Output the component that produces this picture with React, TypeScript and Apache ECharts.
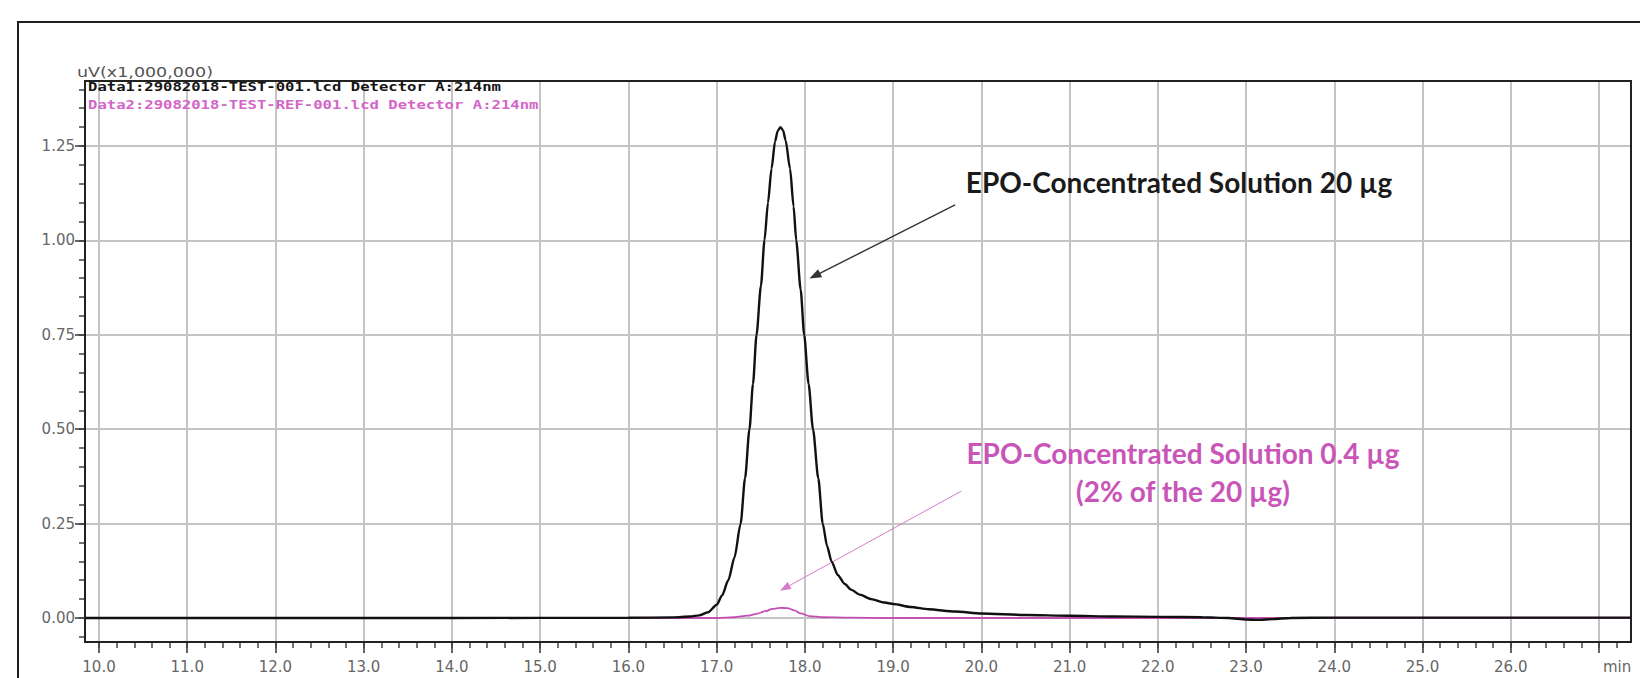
import React, { useEffect, useRef } from "react";
import * as echarts from "echarts";

// Retention time (min) / signal (uV x 1,000,000)
const blackTrace: [number, number][] = [
  [9.84, 0], [12, 0], [14, 0], [16, 0.0005], [16.5, 0.0015], [16.7, 0.004],
  [16.8, 0.007], [16.9, 0.015], [17.0, 0.035], [17.06, 0.06], [17.13, 0.1],
  [17.2, 0.16], [17.27, 0.25], [17.32, 0.37], [17.37, 0.5], [17.41, 0.62],
  [17.45, 0.75], [17.5, 0.88], [17.54, 1.0], [17.58, 1.1], [17.62, 1.19],
  [17.66, 1.262], [17.69, 1.29], [17.72, 1.3], [17.75, 1.292], [17.78, 1.265],
  [17.83, 1.19], [17.87, 1.09], [17.9, 1.0], [17.95, 0.87], [17.99, 0.75],
  [18.04, 0.62], [18.09, 0.5], [18.15, 0.37], [18.2, 0.25], [18.25, 0.19],
  [18.3, 0.15], [18.37, 0.114], [18.45, 0.09], [18.52, 0.075], [18.62, 0.062],
  [18.75, 0.05], [18.9, 0.041], [19.0, 0.037], [19.2, 0.029], [19.4, 0.023],
  [19.7, 0.017], [20.0, 0.012], [20.5, 0.008], [21.0, 0.006], [21.5, 0.004],
  [22.0, 0.003], [22.5, 0.002], [22.8, 0.0], [23.0, -0.004], [23.15, -0.005],
  [23.3, -0.003], [23.5, 0.0], [24.0, 0.001], [25, 0.001], [26, 0.001], [27.36, 0.001],
];

const pinkTrace: [number, number][] = [
  [9.84, 0], [17.0, 0], [17.2, 0.002], [17.35, 0.006], [17.45, 0.011],
  [17.55, 0.018], [17.63, 0.024], [17.72, 0.027], [17.8, 0.026], [17.88, 0.02],
  [17.95, 0.012], [18.05, 0.005], [18.2, 0.002], [18.5, 0.001], [19, 0], [27.36, 0],
];

const xRange = [9.84, 27.36];
const yRange = [-0.0636, 1.4222];
const xMajor = { min: 10, max: 27, step: 1 };
const xMinor = { min: 10, max: 27.2, step: 0.2 };
const yMajor = { min: 0, max: 1.25, step: 0.25 };
const yMinor = { min: -0.05, max: 1.4, step: 0.05 };

const yAxisTitle = "uV(x1,000,000)";
const legendLines = [
  "Data1:29082018-TEST-001.lcd Detector A:214nm",
  "Data2:29082018-TEST-REF-001.lcd Detector A:214nm",
];
const xUnit = "min";
const annot20 = "EPO-Concentrated Solution 20 µg";
const annot04 = ["EPO-Concentrated Solution 0.4 µg", "(2% of the 20 µg)"];
// arrows: [from, to] in data coordinates
const arrow20: [number, number][] = [[19.7, 1.094], [18.11, 0.906]];
const arrow04: [number, number][] = [[19.77, 0.336], [17.77, 0.079]];

const BLACK = "#111111";
const PINK = "#c64fb6";
const GRID = "#c4c4c4";
const LABEL = "#666666";
const FONT = "DejaVu Sans";

export default function App() {
  const ref = useRef<HTMLDivElement>(null);
  useEffect(() => {
    if (!ref.current) return;
    const chart = echarts.init(ref.current, null, { renderer: "svg" });
    const baseGrid = { containLabel: false, outerBoundsMode: "none" } as any;
    const hiddenX = (gi: number) => ({ gridIndex: gi, type: "value", show: false, min: 0, max: 1 });
    const hiddenY = (gi: number) => ({ gridIndex: gi, type: "value", show: false, min: 0, max: 1 });
    const option: any = {
      animation: false,
      backgroundColor: "#ffffff",
      textStyle: { fontFamily: FONT },
      grid: [
        // 0: frame + data
        { ...baseGrid, left: 85, top: 81, right: 9, bottom: 36, show: true, borderColor: "#222", borderWidth: 2, backgroundColor: "transparent", z: 3 },
        // 1: x major
        { ...baseGrid, left: 99, top: 81, right: 41, bottom: 36 },
        // 2: x minor
        { ...baseGrid, left: 99, top: 81, right: 23.4, bottom: 36 },
        // 3: y major
        { ...baseGrid, left: 85, top: 146, right: 9, bottom: 60 },
        // 4: y minor
        { ...baseGrid, left: 85, top: 89.36, right: 9, bottom: 41.12 },
      ],
      xAxis: [
        { gridIndex: 0, type: "value", show: false, min: xRange[0], max: xRange[1] },
        {
          gridIndex: 1, type: "value", position: "bottom", min: xMajor.min, max: xMajor.max, interval: xMajor.step,
          axisLine: { show: false },
          axisTick: { show: true, length: 11, lineStyle: { color: "#333", width: 1.5 } },
          axisLabel: {
            show: true, margin: 17, color: LABEL, fontSize: 15, fontFamily: FONT,
            showMinLabel: true, showMaxLabel: true,
            formatter: (v: number) => (Math.abs(v - 27) < 1e-9 ? "" : v.toFixed(1)),
          },
          splitLine: { show: true, lineStyle: { color: GRID, width: 2 } },
        },
        {
          gridIndex: 2, type: "value", position: "bottom", min: xMinor.min, max: xMinor.max, interval: xMinor.step,
          axisLine: { show: false },
          axisTick: { show: true, length: 6, lineStyle: { color: "#444", width: 1.5 } },
          axisLabel: { show: false },
          splitLine: { show: false },
        },
        hiddenX(3),
        hiddenX(4),
      ],
      yAxis: [
        { gridIndex: 0, type: "value", show: false, min: yRange[0], max: yRange[1] },
        hiddenY(1),
        hiddenY(2),
        {
          gridIndex: 3, type: "value", position: "left", min: yMajor.min, max: yMajor.max, interval: yMajor.step,
          axisLine: { show: false },
          axisTick: { show: true, length: 10, lineStyle: { color: "#333", width: 1.5 } },
          axisLabel: {
            show: true, margin: 10, color: LABEL, fontSize: 15, fontFamily: FONT,
            showMinLabel: true, showMaxLabel: true,
            formatter: (v: number) => v.toFixed(2),
          },
          splitLine: { show: true, lineStyle: { color: GRID, width: 2 } },
        },
        {
          gridIndex: 4, type: "value", position: "left", min: yMinor.min, max: yMinor.max, interval: yMinor.step,
          axisLine: { show: false },
          axisTick: { show: true, length: 6, lineStyle: { color: "#444", width: 1.5 } },
          axisLabel: { show: false },
          splitLine: { show: false },
        },
      ],
      series: [
        {
          type: "line", name: "Data2", xAxisIndex: 0, yAxisIndex: 0, data: pinkTrace,
          showSymbol: false, smooth: 0.3, smoothMonotone: "x", z: 4,
          lineStyle: { color: PINK, width: 1.8 }, itemStyle: { color: PINK },
          emphasis: { disabled: true }, silent: true,
          markLine: {
            silent: true, symbol: ["none", "triangle"], symbolSize: [8, 11],
            label: { show: false }, emphasis: { disabled: true },
            lineStyle: { color: "#d47cc8", width: 1, type: "solid" },
            itemStyle: { color: "#d47cc8" },
            data: [[{ coord: arrow04[0] }, { coord: arrow04[1] }]],
          },
        },
        {
          type: "line", name: "Data1", xAxisIndex: 0, yAxisIndex: 0, data: blackTrace,
          showSymbol: false, smooth: 0.25, smoothMonotone: "x", z: 5,
          lineStyle: { color: BLACK, width: 2.4 }, itemStyle: { color: BLACK },
          emphasis: { disabled: true }, silent: true,
          markLine: {
            silent: true, symbol: ["none", "triangle"], symbolSize: [9, 12],
            label: { show: false }, emphasis: { disabled: true },
            lineStyle: { color: "#333", width: 1.4, type: "solid" },
            itemStyle: { color: "#111" },
            data: [[{ coord: arrow20[0] }, { coord: arrow20[1] }]],
          },
        },
      ],
      graphic: [
        { type: "rect", silent: true, shape: { x: 18, y: 22, width: 1700, height: 720 }, style: { fill: "none", stroke: "#1e1e1e", lineWidth: 2 } },
        { type: "text", silent: true, x: 77, y: 72, scaleX: 1.25, style: { text: yAxisTitle, fontSize: 14, fontFamily: FONT, fill: "#555", align: "left", verticalAlign: "middle" } },
        { type: "text", silent: true, x: 88, y: 87, scaleX: 1.3, z: 10, style: { text: legendLines[0], fontSize: 12, fontWeight: "bold", fontFamily: "DejaVu Sans Mono", fill: "#151515", align: "left", verticalAlign: "middle" } },
        { type: "text", silent: true, x: 88, y: 105, scaleX: 1.3, z: 10, style: { text: legendLines[1], fontSize: 12, fontWeight: "bold", fontFamily: "DejaVu Sans Mono", fill: "#d465c8", align: "left", verticalAlign: "middle" } },
        { type: "text", silent: true, x: 1603, y: 667, style: { text: xUnit, fontSize: 15, fontFamily: FONT, fill: LABEL, align: "left", verticalAlign: "middle" } },
        { type: "text", silent: true, x: 1179, y: 182, z: 10, style: { text: annot20, fontSize: 28, fontWeight: "bold", fontFamily: "Lato", fill: "#1a1a1a", align: "center", verticalAlign: "middle" } },
        { type: "text", silent: true, x: 1183, y: 453, z: 10, style: { text: annot04[0], fontSize: 28, fontWeight: "bold", fontFamily: "Lato", fill: "#c955b8", align: "center", verticalAlign: "middle" } },
        { type: "text", silent: true, x: 1183, y: 491, z: 10, style: { text: annot04[1], fontSize: 28, fontWeight: "bold", fontFamily: "Lato", fill: "#c955b8", align: "center", verticalAlign: "middle" } },
      ],
    };
    chart.setOption(option);
    return () => chart.dispose();
  }, []);
  return (
    <div
      ref={ref}
      style={{ position: "fixed", left: 0, top: 0, width: 1640, height: 678, background: "#fff" }}
    />
  );
}
